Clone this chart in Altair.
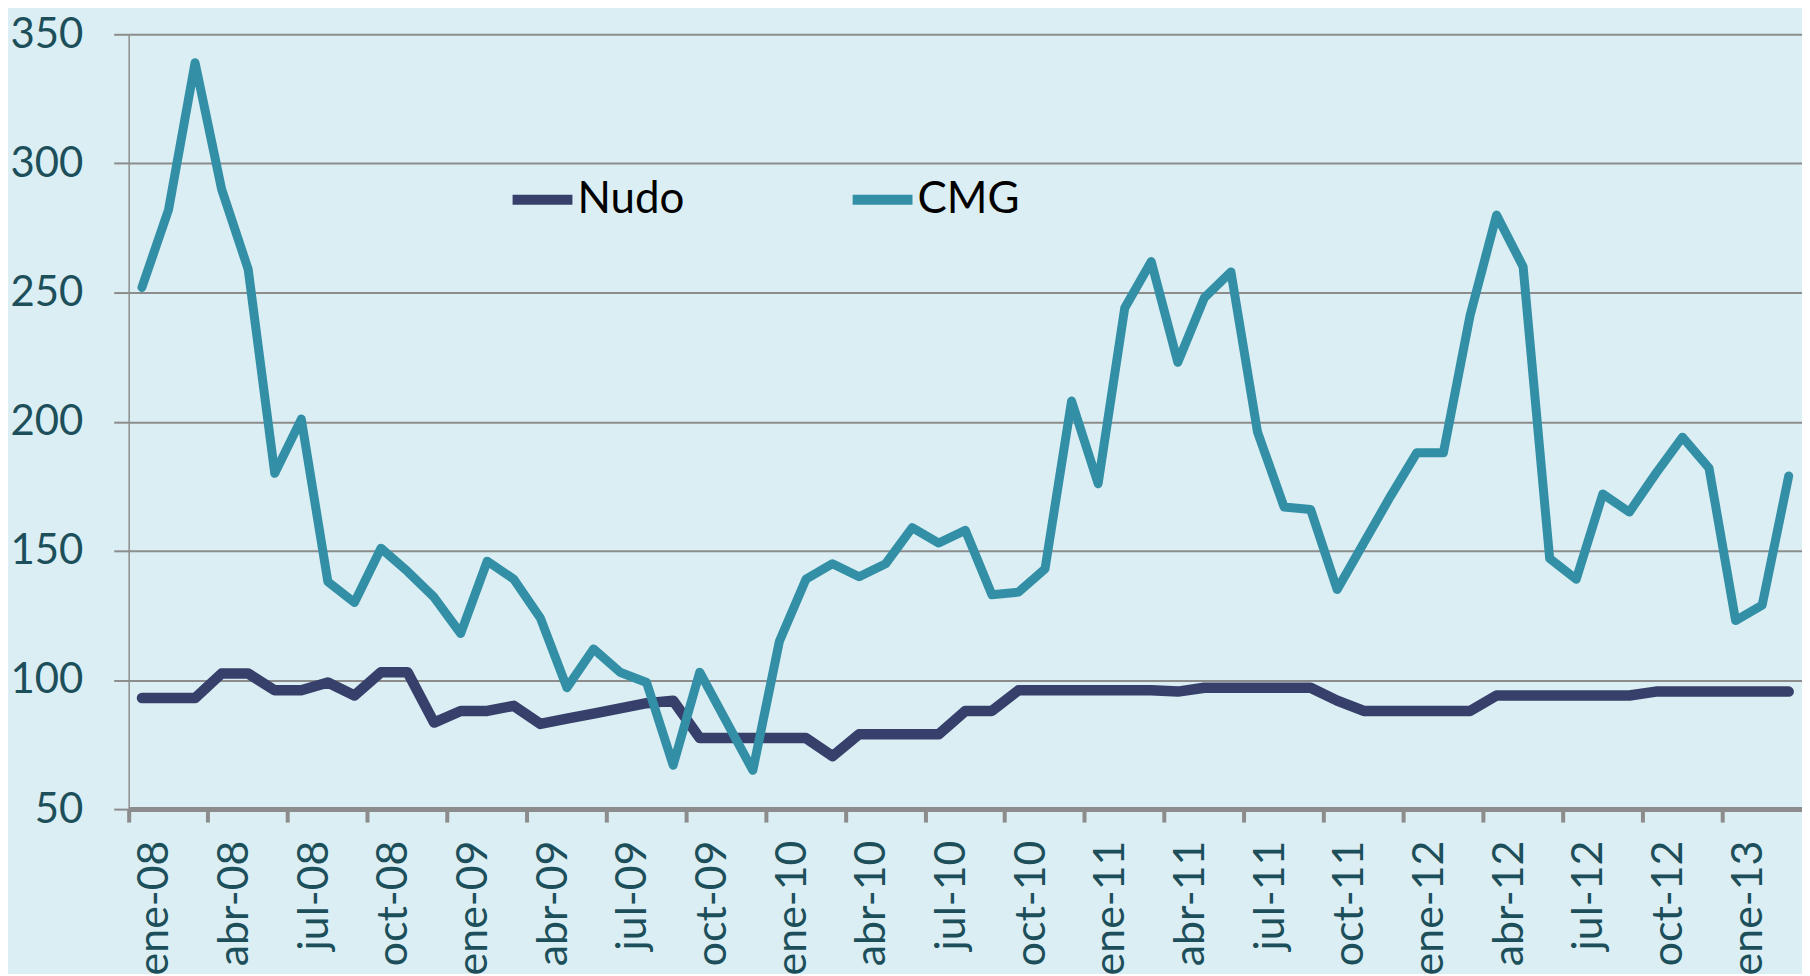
import altair as alt
import pandas as pd

MONTHS = ["ene", "feb", "mar", "abr", "may", "jun", "jul", "ago", "sep", "oct", "nov", "dic"]
YEARS = ["08", "09", "10", "11", "12", "13"]
labels = [f"{m}-{y}" for y in YEARS for m in MONTHS][:63]

cmg = [252, 282, 339, 290, 259, 180, 201, 138, 130, 151, 142, 132, 118, 146, 139, 124,
       97, 112, 103, 99, 67, 103, 84, 65, 115, 139, 145, 140, 145, 159, 153, 158,
       133, 134, 143, 208, 176, 244, 262, 223, 248, 258, 196, 167, 166, 135, 153, 171,
       188, 188, 241, 280, 260, 147, 139, 172, 165, 180, 194, 182, 123, 129, 179]

nudo = [93, 93, 93, 102.5, 102.5, 96, 96, 99, 94, 103, 103, 83.5, 88, 88, 90, 83,
        85, 87, 89, 91, 92, 77.5, 77.5, 77.5, 77.5, 77.5, 70.5, 79, 79, 79, 79, 88,
        88, 96, 96, 96, 96, 96, 96, 95.5, 97, 97, 97, 97, 97, 92, 88, 88,
        88, 88, 88, 94, 94, 94, 94, 94, 94, 95.5, 95.5, 95.5, 95.5, 95.5, 95.5]

tick_labels = labels[::3]
y_ticks = [50, 100, 150, 200, 250, 300, 350]

df = pd.DataFrame({
    "mes": labels * 2,
    "valor": nudo + cmg,
    "serie": ["Nudo"] * len(nudo) + ["CMG"] * len(cmg),
})

FONT = "Lato"
GRID = "#8C8C8C"
W = 1678
H = 777
STEP = W / len(labels)

color = alt.Color(
    "serie:N",
    scale=alt.Scale(domain=["Nudo", "CMG"], range=["#36406A", "#338FA6"]),
    legend=alt.Legend(
        title=None,
        orient="none",
        direction="horizontal",
        legendX=380,
        legendY=131,
        symbolType="stroke",
        symbolSize=3600,
        symbolStrokeWidth=10,
        labelFontSize=44,
        labelFont=FONT,
        labelColor="#000000",
        labelOffset=0,
        columnPadding=148,
        padding=0,
    ),
)

x = alt.X(
    "mes:O",
    sort=labels,
    bandPosition=0.5,
    scale=alt.Scale(type="band", paddingInner=0, paddingOuter=0),
    axis=alt.Axis(
        title=None,
        values=tick_labels,
        bandPosition=0,
        labelOffset=STEP / 2,
        labelAngle=270,
        labelAlign="right",
        labelBaseline="middle",
        labelFontSize=43,
        labelFont=FONT,
        labelColor="#1D4F5B",
        labelPadding=18,
        domainColor=GRID,
        domainWidth=5,
        tickColor=GRID,
        tickSize=13,
        tickWidth=4,
        grid=False,
    ),
)

y = alt.Y(
    "valor:Q",
    scale=alt.Scale(domain=[50, 350], nice=False, zero=False),
    axis=alt.Axis(
        title=None,
        values=y_ticks,
        labelFontSize=42,
        labelFont=FONT,
        labelColor="#1D4F5B",
        labelPadding=31,
        domainColor=GRID,
        domainWidth=1.5,
        tickColor=GRID,
        tickSize=15,
        tickWidth=2,
        gridColor=GRID,
        gridWidth=2,
        gridOpacity=1,
    ),
)

base = alt.Chart(df)
nudo_line = base.transform_filter(alt.datum.serie == "Nudo").mark_line(
    strokeWidth=10.5, strokeCap="round", strokeJoin="round"
).encode(x=x, y=y, color=color)
cmg_line = base.transform_filter(alt.datum.serie == "CMG").mark_line(
    strokeWidth=9, strokeCap="round", strokeJoin="round"
).encode(x=x, y=y, color=color)

chart = (
    alt.layer(nudo_line, cmg_line)
    .properties(
        width=W,
        height=H,
        autosize=alt.AutoSizeParams(type="none"),
        padding={"left": 121, "top": 25, "right": 0, "bottom": 164},
        background="#DAEEF3",
    )
    .configure_view(stroke=None, fill="#DAEEF3")
)

chart.save("out.html", embed_options={"renderer": "svg", "actions": False})
